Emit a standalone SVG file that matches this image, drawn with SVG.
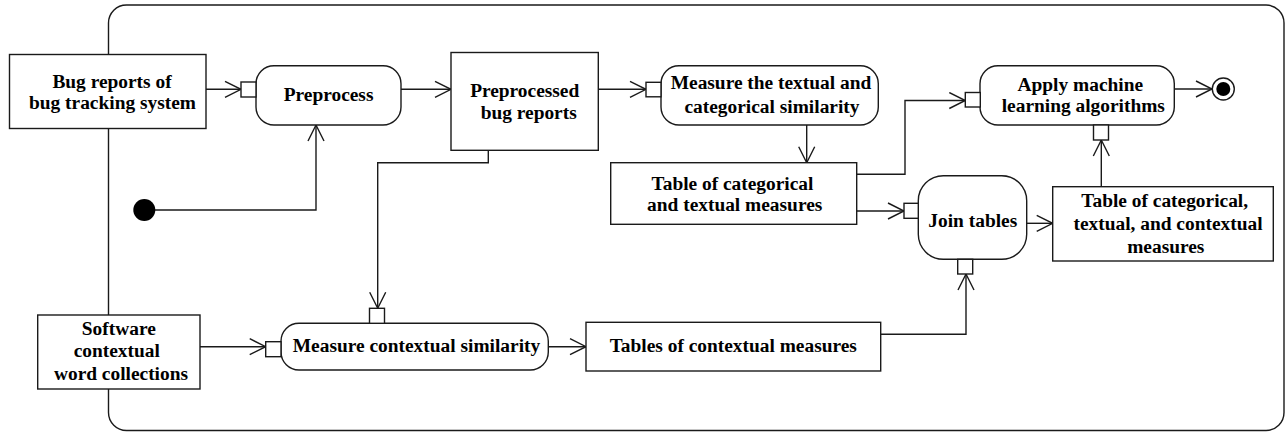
<svg xmlns="http://www.w3.org/2000/svg" width="1286" height="432" viewBox="0 0 1286 432">
<defs>
<style>
.obj{fill:#fff;stroke:#1a1a1a;stroke-width:1.4}
.act{fill:#fff;stroke:#1a1a1a;stroke-width:1.4}
.pin{fill:#fff;stroke:#1a1a1a;stroke-width:1.4}
.edge{fill:none;stroke:#1a1a1a;stroke-width:1.4}
.frame{fill:none;stroke:#1a1a1a;stroke-width:1.4}
text{font-family:"Liberation Serif","Times New Roman",serif;font-weight:bold;font-size:19.4px;fill:#000;text-anchor:middle}
</style>
<marker id="arr" markerUnits="userSpaceOnUse" markerWidth="20" markerHeight="20" viewBox="0 0 20 20" refX="17" refY="9" orient="auto">
<path d="M1,1 L17,9 L1,17" fill="none" stroke="#1a1a1a" stroke-width="1.4"/>
</marker>
</defs>
<rect class="frame" x="108.5" y="5" width="1175.5" height="425.5" rx="18" ry="18"/>
<g id="connectors">
<path class="edge" d="M206,89.3 L241,89.3" marker-end="url(#arr)"/>
<path class="edge" d="M155,210 L316,210 L316,125" marker-end="url(#arr)"/>
<path class="edge" d="M401,89.3 L451,89.3" marker-end="url(#arr)"/>
<path class="edge" d="M598,89.3 L646,89.3" marker-end="url(#arr)"/>
<path class="edge" d="M488.3,150 L488.3,162.7 L377.7,162.7 L377.7,308.3" marker-end="url(#arr)"/>
<path class="edge" d="M200,346.7 L265.7,346.7" marker-end="url(#arr)"/>
<path class="edge" d="M548.3,346.7 L586,346.7" marker-end="url(#arr)"/>
<path class="edge" d="M880.7,334.3 L966,334.3 L966,274" marker-end="url(#arr)"/>
<path class="edge" d="M806.7,125 L806.7,162.7" marker-end="url(#arr)"/>
<path class="edge" d="M856.7,174.3 L905,174.3 L905,100.5 L965.3,100.5" marker-end="url(#arr)"/>
<path class="edge" d="M856.7,211 L904,211" marker-end="url(#arr)"/>
<path class="edge" d="M1026.7,223.3 L1052.7,223.3" marker-end="url(#arr)"/>
<path class="edge" d="M1101.3,186.7 L1101.3,140" marker-end="url(#arr)"/>
<path class="edge" d="M1174.3,89 L1212,89" marker-end="url(#arr)"/>
</g>
<g id="bug-reports">
<rect class="obj" x="9.5" y="54.5" width="196.5" height="74"/>
<text x="112" y="87.7">Bug reports of</text>
<text x="112.5" y="109">bug tracking system</text>
</g>
<g id="initial">
<circle cx="144.3" cy="210" r="11" fill="#000"/>
</g>
<g id="preprocess">
<rect class="act" x="256" y="65.7" width="145" height="59.3" rx="18" ry="18"/>
<rect class="pin" x="241" y="82" width="15" height="15"/>
<text x="328.6" y="101">Preprocess</text>
</g>
<g id="preprocessed-reports">
<rect class="obj" x="451" y="52.5" width="147.3" height="97.8"/>
<text x="524.7" y="96.7">Preprocessed</text>
<text x="528.7" y="119.3">bug reports</text>
</g>
<g id="measure-textual">
<rect class="act" x="661" y="65.7" width="217.3" height="59.3" rx="18" ry="18"/>
<rect class="pin" x="646" y="82.3" width="15" height="14.5"/>
<text x="771" y="89.3">Measure the textual and</text>
<text x="772" y="112.7">categorical similarity</text>
</g>
<g id="table-cat-text">
<rect class="obj" x="610.7" y="162.7" width="246" height="61.6"/>
<text x="732.5" y="189.5">Table of categorical</text>
<text x="734.7" y="211">and textual measures</text>
</g>
<g id="apply-ml">
<rect class="act" x="980" y="65.7" width="194.3" height="59.3" rx="18" ry="18"/>
<rect class="pin" x="965.3" y="92.5" width="15" height="14.5"/>
<rect class="pin" x="1093.5" y="125" width="15" height="15"/>
<text x="1080.3" y="90.7">Apply machine</text>
<text x="1083.3" y="112.3">learning algorithms</text>
</g>
<g id="final">
<circle cx="1223.3" cy="89" r="11" fill="#fff" stroke="#1a1a1a" stroke-width="1.4"/>
<circle cx="1223.3" cy="89" r="7" fill="#000"/>
</g>
<g id="join-tables">
<rect class="act" x="918.3" y="175.7" width="108.4" height="83.6" rx="25" ry="25"/>
<rect class="pin" x="904" y="203.3" width="14.3" height="15"/>
<rect class="pin" x="957.7" y="259.3" width="15" height="14.7"/>
<text x="972.8" y="227.3">Join tables</text>
</g>
<g id="table-all">
<rect class="obj" x="1052.7" y="186.7" width="220.6" height="74.3"/>
<text x="1164.7" y="207.3">Table of categorical,</text>
<text x="1168" y="230">textual, and contextual</text>
<text x="1165.8" y="252.7">measures</text>
</g>
<g id="software-words">
<rect class="obj" x="37.7" y="315" width="162.3" height="74"/>
<text x="118.8" y="335">Software</text>
<text x="116.8" y="357.3">contextual</text>
<text x="121" y="380">word collections</text>
</g>
<g id="measure-contextual">
<rect class="act" x="281" y="323.3" width="267.3" height="46.7" rx="18" ry="18"/>
<rect class="pin" x="265.7" y="341.7" width="15.3" height="15"/>
<rect class="pin" x="369.5" y="308.3" width="15" height="15"/>
<text x="416.5" y="351.7">Measure contextual similarity</text>
</g>
<g id="tables-contextual">
<rect class="obj" x="586" y="322.3" width="294.7" height="48.7"/>
<text x="733.3" y="352.3">Tables of contextual measures</text>
</g>
</svg>
